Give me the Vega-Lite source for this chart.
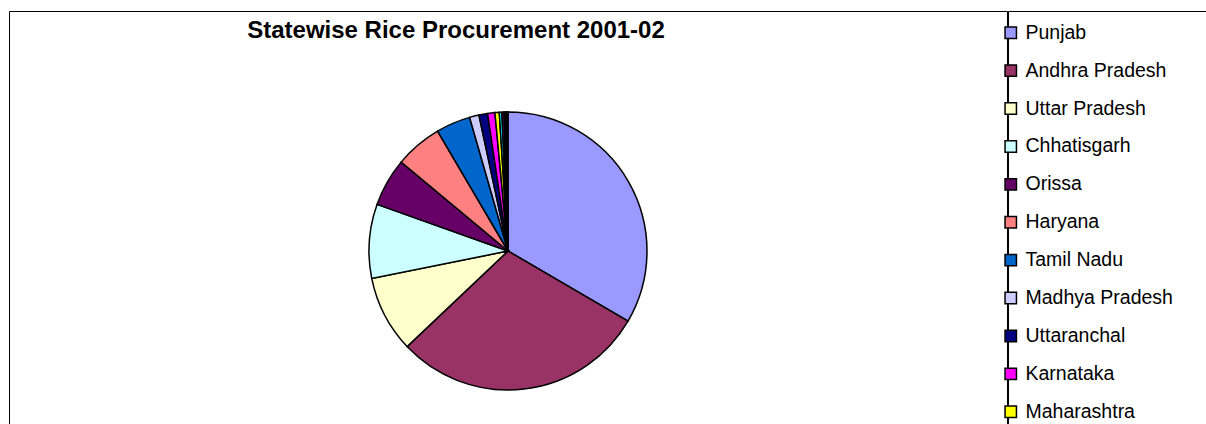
{
  "$schema": "https://vega.github.io/schema/vega-lite/v6.json",
  "padding": {"left": 8, "top": 10, "right": 5, "bottom": 0},
  "background": "white",
  "spacing": -11,
  "datasets": {
    "rice": [
      {"state": "Punjab", "share": 33.4},
      {"state": "Andhra Pradesh", "share": 29.5},
      {"state": "Uttar Pradesh", "share": 8.9},
      {"state": "Chhatisgarh", "share": 8.6},
      {"state": "Orissa", "share": 5.6},
      {"state": "Haryana", "share": 5.5},
      {"state": "Tamil Nadu", "share": 4.0},
      {"state": "Madhya Pradesh", "share": 1.1},
      {"state": "Uttaranchal", "share": 1.0},
      {"state": "Karnataka", "share": 0.85},
      {"state": "Maharashtra", "share": 0.5},
      {"state": "West Bengal", "share": 0.3},
      {"state": "Kerala", "share": 0.25},
      {"state": "Gujarat", "share": 0.2},
      {"state": "Bihar", "share": 0.15},
      {"state": "Others", "share": 0.1}
    ]
  },
  "hconcat": [
    {
      "width": 998,
      "height": 480,
      "view": {"stroke": "black", "strokeWidth": 1, "fill": "white"},
      "data": {"name": "rice"},
      "title": {
        "text": "Statewise Rice Procurement 2001-02",
        "font": "Liberation Sans",
        "fontSize": 24,
        "fontWeight": "bold",
        "color": "black",
        "anchor": "middle",
        "baseline": "alphabetic",
        "offset": -51,
        "dx": -52
      },
      "mark": {"type": "arc", "outerRadius": 139, "stroke": "black", "strokeWidth": 1.5},
      "encoding": {
        "theta": {"field": "share", "type": "quantitative", "stack": true},
        "order": {"field": "share", "type": "quantitative", "sort": "descending"},
        "color": {
          "field": "state",
          "type": "nominal",
          "sort": null,
          "scale": {
            "domain": ["Punjab", "Andhra Pradesh", "Uttar Pradesh", "Chhatisgarh", "Orissa", "Haryana", "Tamil Nadu", "Madhya Pradesh", "Uttaranchal", "Karnataka", "Maharashtra", "West Bengal", "Kerala", "Gujarat", "Bihar", "Others"],
            "range": ["#9999FF", "#993366", "#FFFFCC", "#CCFFFF", "#660066", "#FF8080", "#0066CC", "#CCCCFF", "#000080", "#FF00FF", "#FFFF00", "#00FFFF", "#800080", "#800000", "#008080", "#0000FF"]
          },
          "legend": {
            "orient": "none",
            "legendX": 984,
            "legendY": 4,
            "title": null,
            "values": ["Punjab", "Andhra Pradesh", "Uttar Pradesh", "Chhatisgarh", "Orissa", "Haryana", "Tamil Nadu", "Madhya Pradesh", "Uttaranchal", "Karnataka", "Maharashtra"],
            "padding": 8,
            "symbolType": "square",
            "symbolSize": 130,
            "symbolStrokeColor": "black",
            "symbolStrokeWidth": 1.5,
            "symbolOpacity": 1,
            "labelFont": "Liberation Sans",
            "labelFontSize": 19.5,
            "labelColor": "black",
            "labelOffset": 5,
            "labelLimit": 300,
            "rowPadding": 16.9
          }
        }
      }
    },
    {
      "width": 204,
      "height": 480,
      "view": {"stroke": "black", "strokeWidth": 1, "fill": "white"},
      "data": {"values": []},
      "mark": "rect",
      "encoding": {}
    }
  ],
  "config": {
    "view": {"stroke": "black", "strokeWidth": 1, "fill": "white"}
  }
}
